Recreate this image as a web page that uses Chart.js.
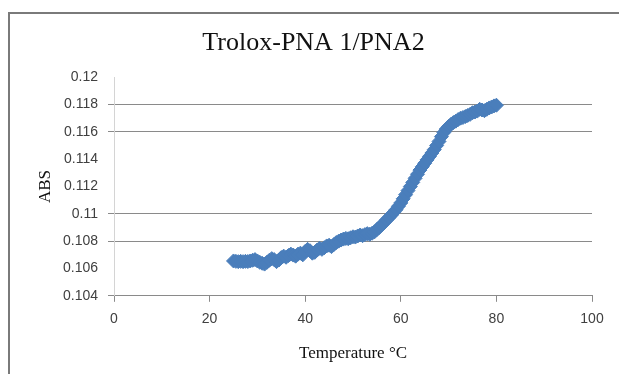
<!DOCTYPE html>
<html lang="en">
<head>
<meta charset="UTF-8">
<title>Trolox-PNA 1/PNA2</title>
<script src="https://cdn.jsdelivr.net/npm/chart.js"></script>
<style>
    html, body { margin: 0; padding: 0; background: #fff; }
    .wrap { position: relative; width: 619px; height: 374px; overflow: hidden; }
    .frame { position: absolute; left: 8px; top: 12px; right: -4px; bottom: -4px; border: 2px solid #7a7a7a; }
    canvas { position: absolute; left: 0; top: 0; }
</style>
</head>
<body>
<div class="wrap">
    <div class="frame"></div>
    <canvas id="meltChart" width="619" height="374"></canvas>
</div>
<script>
// Temperature (°C)
const temperature = [
    25.0, 25.5, 26.0, 26.5, 27.0, 27.5, 28.0, 28.5, 29.0, 29.5,
    30.0, 30.5, 31.0, 31.5, 32.0, 32.5, 33.0, 33.5, 34.0, 34.5,
    35.0, 35.5, 36.0, 36.5, 37.0, 37.5, 38.0, 38.5, 39.0, 39.5,
    40.0, 40.5, 41.0, 41.5, 42.0, 42.5, 43.0, 43.5, 44.0, 44.5,
    45.0, 45.5, 46.0, 46.5, 47.0, 47.5, 48.0, 48.5, 49.0, 49.5,
    50.0, 50.5, 51.0, 51.5, 52.0, 52.5, 53.0, 53.5, 54.0, 54.5,
    55.0, 55.5, 56.0, 56.5, 57.0, 57.5, 58.0, 58.5, 59.0, 59.5,
    60.0, 60.5, 61.0, 61.5, 62.0, 62.5, 63.0, 63.5, 64.0, 64.5,
    65.0, 65.5, 66.0, 66.5, 67.0, 67.5, 68.0, 68.5, 69.0, 69.5,
    70.0, 70.5, 71.0, 71.5, 72.0, 72.5, 73.0, 73.5, 74.0, 74.5,
    75.0, 75.5, 76.0, 76.5, 77.0, 77.5, 78.0, 78.5, 79.0, 79.5,
    80.0
];

// Absorbance, one value per temperature above
const absorbance = [
    0.10655, 0.10652, 0.10650, 0.10652, 0.10650, 0.10652, 0.10651, 0.10655, 0.10660, 0.10665,
    0.10655, 0.10645, 0.10638, 0.10632, 0.10645, 0.10660, 0.10672, 0.10665, 0.10650, 0.10662,
    0.10680, 0.10690, 0.10682, 0.10695, 0.10705, 0.10698, 0.10690, 0.10705, 0.10712, 0.10700,
    0.10725, 0.10740, 0.10730, 0.10712, 0.10718, 0.10735, 0.10748, 0.10740, 0.10752, 0.10765,
    0.10770, 0.10760, 0.10775, 0.10790, 0.10800, 0.10808, 0.10815, 0.10820, 0.10818, 0.10825,
    0.10832, 0.10830, 0.10838, 0.10845, 0.10840, 0.10848, 0.10855, 0.10850, 0.10858, 0.10868,
    0.10885, 0.10900, 0.10918, 0.10935, 0.10955, 0.10972, 0.10990, 0.11010, 0.11030, 0.11055,
    0.11080, 0.11110, 0.11140, 0.11170, 0.11200, 0.11230, 0.11260, 0.11290, 0.11320, 0.11345,
    0.11370, 0.11395, 0.11420, 0.11445, 0.11470, 0.11500, 0.11530, 0.11565, 0.11595, 0.11620,
    0.11640, 0.11655, 0.11668, 0.11678, 0.11690, 0.11700, 0.11705, 0.11712, 0.11720, 0.11728,
    0.11740, 0.11745, 0.11752, 0.11765, 0.11760, 0.11755, 0.11765, 0.11775, 0.11782, 0.11790,
    0.11795
];

// only these horizontal gridlines survive in the reference image
const visibleGrid = [0.108, 0.110, 0.116, 0.118];

const points = temperature.map((t, i) => ({ x: t, y: absorbance[i] }));

const gridColor = ctx => {
    const v = ctx.tick ? ctx.tick.value : null;
    if (v === null) return 'rgba(0,0,0,0)';
    if (Math.abs(v - 0.104) < 1e-6) return '#8a8a8a';
    return visibleGrid.some(g => Math.abs(g - v) < 1e-6) ? '#8a8a8a' : 'rgba(0,0,0,0)';
};

const ctx = document.getElementById('meltChart').getContext('2d');
new Chart(ctx, {
    type: 'scatter',
    data: {
        datasets: [{
            label: 'ABS',
            data: points,
            pointStyle: 'rectRot',
            pointRadius: 7,
            pointBorderWidth: 1,
            backgroundColor: '#4a7ebb',
            borderColor: '#4a7ebb'
        }]
    },
    options: {
        responsive: false,
        animation: false,
        layout: { padding: { left: 35, right: 27, top: 0, bottom: 10 } },
        plugins: {
            legend: { display: false },
            tooltip: { enabled: false },
            title: {
                display: true,
                text: 'Trolox-PNA 1/PNA2',
                color: '#111',
                font: { family: '"Liberation Serif", "Times New Roman", serif', size: 26, weight: 'normal' },
                padding: { top: 28, bottom: 18 }
            }
        },
        scales: {
            x: {
                type: 'linear',
                min: 0,
                max: 100,
                ticks: {
                    stepSize: 20,
                    color: '#404040',
                    padding: 9,
                    font: { family: '"Liberation Sans", Arial, sans-serif', size: 14 }
                },
                grid: { drawOnChartArea: false, drawTicks: true, tickLength: 6, color: '#8a8a8a' },
                border: { color: '#8a8a8a', width: 1 },
                title: {
                    display: true,
                    text: 'Temperature °C',
                    color: '#111',
                    font: { family: '"Liberation Serif", "Times New Roman", serif', size: 17 },
                    padding: { top: 7, bottom: 0 }
                }
            },
            y: {
                min: 0.104,
                max: 0.12,
                afterFit: scale => { scale.width = 79; },
                ticks: {
                    stepSize: 0.002,
                    color: '#404040',
                    padding: 10,
                    font: { family: '"Liberation Sans", Arial, sans-serif', size: 14 },
                    callback: v => String(+v.toFixed(3))
                },
                grid: { color: gridColor, tickLength: 6, lineWidth: 1 },
                border: { color: '#d4d4d4', width: 1 },
                title: {
                    display: true,
                    text: 'ABS',
                    color: '#111',
                    font: { family: '"Liberation Serif", "Times New Roman", serif', size: 17 },
                    padding: { top: 0, bottom: 0 }
                }
            }
        }
    }
});
</script>
</body>
</html>
